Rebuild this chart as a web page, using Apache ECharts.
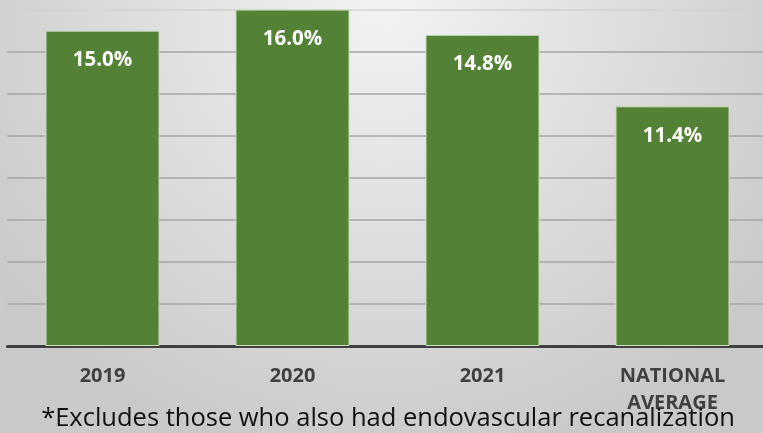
<!DOCTYPE html>
<html><head><meta charset="utf-8">
<script src="https://cdn.jsdelivr.net/npm/echarts@6/dist/echarts.min.js"></script>
<style>html,body{margin:0;padding:0;overflow:hidden;width:763px;height:433px;}#c{width:768px;height:433px;}</style>
</head><body><div id="c"></div>
<script>
var categories = ['2019', '2020', '2021', 'NATIONAL\nAVERAGE'];
var values = [15.0, 16.0, 14.8, 11.4];
var footnote = '*Excludes those who also had endovascular recanalization';

var chart = echarts.init(document.getElementById('c'));
chart.setOption({
  backgroundColor: {
    type: 'radial', x: 0.5, y: 0, r: 1.1,
    colorStops: [{offset: 0, color: '#f3f3f3'}, {offset: 1, color: '#c9c9c9'}]
  },
  animation: false,
  grid: {left: 7.5, right: 0.5, top: 9.6, bottom: 87, containLabel: false},
  xAxis: {
    type: 'category', data: categories,
    axisLine: {lineStyle: {color: '#404040', width: 3}},
    axisTick: {show: false},
    axisLabel: {color: '#404040', fontFamily: 'Open Sans', fontWeight: 'bold', fontSize: 20, lineHeight: 27, margin: 17}
  },
  yAxis: {
    type: 'value', min: 0, max: 16, interval: 2,
    axisLabel: {show: false}, axisLine: {show: false}, axisTick: {show: false},
    splitLine: {lineStyle: {color: ['#a6a6a6','#a6a6a6','#a6a6a6','#a6a6a6','#a6a6a6','#a6a6a6','#a6a6a6','#a6a6a6','#d2d2d2'], width: 1.5}}
  },
  series: [{
    type: 'bar', data: values, barWidth: '60%',
    itemStyle: {color: '#538135', borderColor: '#c9dcbb', borderWidth: 1},
    label: {show: true, position: 'insideTop', distance: 19, color: '#ffffff', fontFamily: 'Open Sans', fontWeight: 'bold', fontSize: 20.5,
      formatter: function(p){ return p.value.toFixed(1) + '%'; }}
  }],
  graphic: [{
    type: 'text', x: 388, y: 432, z: 100,
    style: {text: footnote, fill: '#111111', font: '25.5px "Open Sans"', align: 'center', verticalAlign: 'bottom'}
  }]
});
</script></body></html>
